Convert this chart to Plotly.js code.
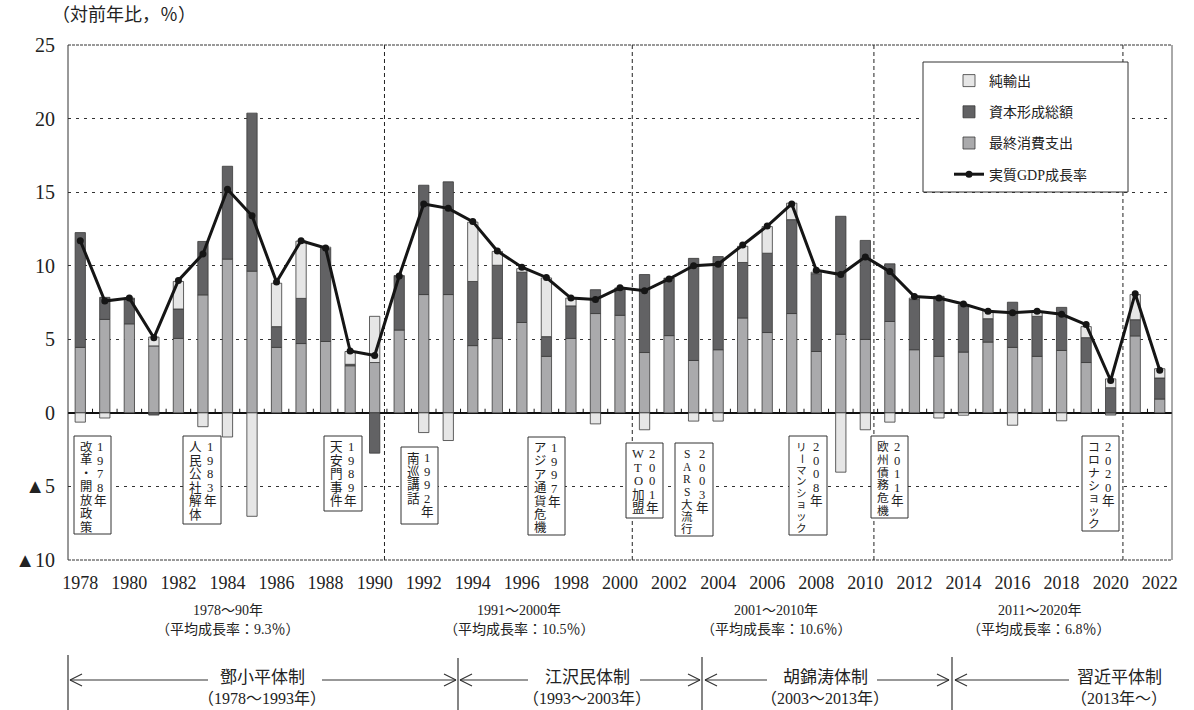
<!DOCTYPE html>
<html><head><meta charset="utf-8">
<script src="https://cdn.plot.ly/plotly-3.0.1.min.js"></script>
<style>html,body{margin:0;padding:0;background:#fff}#chart{width:1194px;height:710px}</style>
</head><body><div id="chart"></div>
<script>
// ---------------- DATA ----------------
const years = [1978,1979,1980,1981,1982,1983,1984,1985,1986,1987,1988,1989,1990,1991,1992,1993,1994,1995,1996,1997,1998,1999,2000,2001,2002,2003,2004,2005,2006,2007,2008,2009,2010,2011,2012,2013,2014,2015,2016,2017,2018,2019,2020,2021,2022];
const consumption = [4.45,6.35,6.05,4.55,5.06,8.02,10.45,9.63,4.45,4.71,4.85,3.2,3.42,5.63,8.04,8.04,4.57,5.06,6.14,3.84,5.06,6.75,6.63,4.1,5.25,3.56,4.29,6.45,5.46,6.75,4.17,5.34,4.99,6.21,4.29,3.84,4.13,4.81,4.45,3.84,4.24,3.42,-0.15,5.23,0.94];
const capital = [7.8,1.5,1.7,-0.15,2.0,3.63,6.31,10.74,1.41,3.07,6.31,0.1,-2.74,3.65,7.43,7.66,4.36,4.97,3.42,1.34,2.21,1.62,1.81,5.3,3.89,6.94,6.33,3.77,5.39,6.38,5.29,8.02,6.73,3.92,3.41,4.08,3.21,1.59,3.07,2.72,2.93,1.69,1.71,1.1,1.43];
const netExports = [-0.63,-0.35,0.05,0.6,1.87,-0.94,-1.64,-7.03,2.95,3.89,0.1,0.87,3.14,0.05,-1.34,-1.88,4.03,0.94,0.24,3.99,0.53,-0.75,0.05,-1.15,0.0,-0.56,-0.56,1.1,1.81,1.12,0.1,-4.03,-1.15,-0.63,0.1,-0.35,-0.16,0.54,-0.84,0.31,-0.54,0.75,0.6,1.71,0.63];
const gdpGrowth = [11.7,7.6,7.8,5.1,9.0,10.8,15.2,13.4,8.9,11.7,11.2,4.2,3.9,9.3,14.2,13.9,13.0,11.0,9.9,9.2,7.8,7.7,8.5,8.3,9.1,10.0,10.1,11.4,12.7,14.2,9.7,9.4,10.6,9.6,7.9,7.8,7.4,6.9,6.8,6.9,6.7,6.0,2.2,8.1,2.9];
const seriesNames = ['最終消費支出','資本形成総額','純輸出','実質GDP成長率'];
const xTickVals = [1978,1980,1982,1984,1986,1988,1990,1992,1994,1996,1998,2000,2002,2004,2006,2008,2010,2012,2014,2016,2018,2020,2022];
const yTickVals = [-10,-5,0,5,10,15,20,25];
const yTickText = ['▲10','▲5','0','5','10','15','20','25'];
const yTitle = '（対前年比，％）';
const eventYearText = ['1978年','1983年','1989年','1992年','1997年','2001年','2003年','2008年','2011年','2020年'];
const eventText = ['改革・開放政策','人民公社解体','天安門事件','南巡講話','アジア通貨危機','WTO加盟','SARS大流行','リーマンショック','欧州債務危機','コロナショック'];
const periodLabels = ['1978～90年','1991～2000年','2001～2010年','2011～2020年'];
const periodAvg = ['（平均成長率：9.3％）','（平均成長率：10.5％）','（平均成長率：10.6％）','（平均成長率：6.8％）'];
const regimeNames = ['鄧小平体制','江沢民体制','胡錦涛体制','習近平体制'];
const regimeSpans = ['（1978～1993年）','（1993～2003年）','（2003～2013年）','（2013年～）'];
const periodBreaks = [1990.4, 2000.5, 2010.35, 2020.5];

// ---------------- LAYOUT HELPERS (pixel positions) ----------------
const F = "'Liberation Serif','Noto Sans CJK JP',serif";
const TXT = '#222';
const L = 68, R = 1172, T = 45, B = 560;
const px = x => (x - L) / (R - L);
const py = y => (B - y) / (B - T);

const eventBoxPx = [[74,111,436,534],[183,221,436,524],[324,362,436,511],[401,438,447,524],[528,565,437,535],[626,663,443,518],[675,713,443,536],[789,827,436,535],[871,908,436,518],[1082,1119,436,531]];
const periodPos = [228, 519, 776, 1039];
const regimePos = [
  {sep:68, top:655, left:[70,208], right:[322,456], cx:262},
  {sep:458, top:658, left:[460,528], right:[640,700], cx:587},
  {sep:702, top:657, left:[705,767], right:[877,949], cx:825},
  {sep:952, top:657, left:[955,1069], right:null, cx:1119}
];

const shapes = [];
const annotations = [];

// small ticks on zero line at half years
for (let i = 0; i < years.length - 1; i++) {
  shapes.push({type:'line', xref:'x', yref:'y', x0:years[i]+0.5, x1:years[i]+0.5, y0:0, y1:0.28, line:{color:'#111', width:1}});
}
// period vertical dashed lines
periodBreaks.forEach(b => shapes.push({type:'line', xref:'x', yref:'paper', x0:b, x1:b, y0:0, y1:1, layer:'below', line:{color:'#222', width:1, dash:'4px,3px'}}));
// plot borders
shapes.push({type:'line', xref:'paper', yref:'paper', x0:0, x1:1, y0:1, y1:1, line:{color:'#333', width:1, dash:'3px,1px'}});
shapes.push({type:'line', xref:'paper', yref:'paper', x0:0, x1:1, y0:0, y1:0, line:{color:'#333', width:1, dash:'3px,1px'}});
shapes.push({type:'line', xref:'paper', yref:'paper', x0:0, x1:0, y0:0, y1:1, line:{color:'#333', width:1}});
shapes.push({type:'line', xref:'paper', yref:'paper', x0:1, x1:1, y0:0, y1:1, line:{color:'#555', width:1}});

// event boxes with vertical text (one annotation per character)
eventBoxPx.forEach((b, i) => {
  const [x0, x1, y0, y1] = b;
  shapes.push({type:'rect', xref:'paper', yref:'paper', x0:px(x0), x1:px(x1), y0:py(y1), y1:py(y0), layer:'above', fillcolor:'#fff', line:{color:'#333', width:1}});
  const cols = [[eventYearText[i], x1 - 11], [eventText[i], x0 + 12]];
  cols.forEach(([txt, cx]) => {
    const chars = Array.from(txt);
    const step = Math.min(13.6, (y1 - y0 - 18) / Math.max(chars.length - 1, 1));
    const fs = Math.min(12.6, step - 1);
    chars.forEach((c, k) => {
      annotations.push({xref:'paper', yref:'paper', x:px(cx), y:py(y0 + 11 + k*step), text:c, showarrow:false, borderpad:0,
        xanchor:'center', yanchor:'middle', textangle:(c === 'ー' ? 90 : 0), font:{family:F, size:fs, color:TXT}});
    });
  });
});

// legend box
shapes.push({type:'rect', xref:'paper', yref:'paper', x0:px(923), x1:px(1128), y0:py(192), y1:py(62), layer:'above', fillcolor:'#fff', line:{color:'#333', width:1}});

// y title
annotations.push({xref:'paper', yref:'paper', x:px(50), y:py(15), text:yTitle, showarrow:false, xanchor:'left', yanchor:'middle', font:{family:F, size:18, color:TXT}});

// period labels
periodLabels.forEach((t, i) => {
  annotations.push({xref:'paper', yref:'paper', x:px(periodPos[i]), y:py(610), text:t, showarrow:false, xanchor:'center', yanchor:'middle', font:{family:F, size:14, color:TXT}});
  annotations.push({xref:'paper', yref:'paper', x:px(periodPos[i]), y:py(629), text:periodAvg[i], showarrow:false, xanchor:'center', yanchor:'middle', font:{family:F, size:14, color:TXT}});
});

// regimes
const AY = 680;
function seg(xa, ya, xb, yb, w) {
  shapes.push({type:'line', xref:'paper', yref:'paper', x0:px(xa), x1:px(xb), y0:py(ya), y1:py(yb), line:{color:'#333', width:w || 1.2}});
}
regimePos.forEach((r, i) => {
  seg(r.sep, r.top, r.sep, 712, 1.2);
  seg(r.left[0], AY, r.left[1], AY);
  seg(r.left[0], AY, r.left[0] + 12, AY - 6); seg(r.left[0], AY, r.left[0] + 12, AY + 6);
  if (r.right) {
    seg(r.right[0], AY, r.right[1], AY);
    seg(r.right[1], AY, r.right[1] - 12, AY - 6); seg(r.right[1], AY, r.right[1] - 12, AY + 6);
  }
  annotations.push({xref:'paper', yref:'paper', x:px(r.cx), y:py(677), text:regimeNames[i], showarrow:false, xanchor:'center', yanchor:'middle', font:{family:F, size:17, color:TXT}});
  annotations.push({xref:'paper', yref:'paper', x:px(r.cx), y:py(698), text:regimeSpans[i], showarrow:false, xanchor:'center', yanchor:'middle', font:{family:F, size:16, color:TXT}});
});

// ---------------- TRACES ----------------
const barLine = {color:'#3a3a3a', width:0.8};
const traces = [
  {type:'bar', name:seriesNames[0], x:years, y:consumption, width:0.42, marker:{color:'#aaaaac', line:barLine}, legendrank:3, legendgroup:'g3'},
  {type:'bar', name:seriesNames[1], x:years, y:capital, width:0.42, marker:{color:'#626264', line:barLine}, legendrank:2, legendgroup:'g2'},
  {type:'bar', name:seriesNames[2], x:years, y:netExports, width:0.42, marker:{color:'#e6e6e6', line:barLine}, legendrank:1, legendgroup:'g1'},
  {type:'scatter', mode:'lines+markers', name:seriesNames[3], x:years, y:gdpGrowth, line:{color:'#151515', width:3}, marker:{size:7, color:'#151515'}, legendrank:4, legendgroup:'g4'}
];

const layout = {
  width:1194, height:710,
  margin:{l:L, r:1194-R, t:T, b:710-B, pad:0},
  paper_bgcolor:'#fff', plot_bgcolor:'#fff',
  barmode:'relative',
  font:{family:F, color:TXT},
  showlegend:true,
  legend:{x:px(949), xanchor:'left', y:py(65), yanchor:'top', bgcolor:'rgba(0,0,0,0)', borderwidth:0,
    font:{family:F, size:14, color:TXT}, traceorder:'grouped', tracegroupgap:10, itemwidth:30},
  xaxis:{range:[1977.5, 2022.5], tickvals:xTickVals, ticks:'', showgrid:false, zeroline:false, showline:false,
    tickfont:{family:F, size:18, color:TXT}, ticklabelstandoff:10, fixedrange:true},
  yaxis:{range:[-10, 25], tickvals:yTickVals, ticktext:yTickText, ticks:'', showgrid:true, gridcolor:'#333', gridwidth:1, griddash:'3px,5px',
    zeroline:true, zerolinecolor:'#111', zerolinewidth:1.5, showline:false,
    tickfont:{family:F, size:20, color:TXT}, ticklabelstandoff:12, fixedrange:true},
  shapes:shapes,
  annotations:annotations
};

Plotly.newPlot('chart', traces, layout, {displayModeBar:false, staticPlot:true});
</script>
</body></html>
